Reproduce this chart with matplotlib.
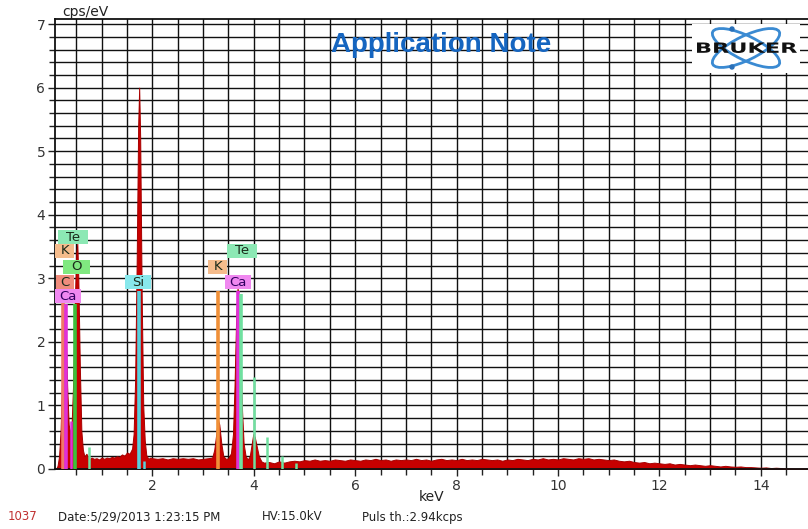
import matplotlib
matplotlib.use("Agg")
import matplotlib.pyplot as plt
from matplotlib.patches import Ellipse, Rectangle, Circle, PathPatch
from matplotlib.textpath import TextPath
from matplotlib.font_manager import FontProperties
from matplotlib.transforms import Affine2D
from matplotlib.ticker import MultipleLocator, FixedLocator

# ---------------- data ----------------
spec_keV = [0.10, 0.13, 0.16, 0.19, 0.22, 0.25, 0.27, 0.29, 0.32, 0.35, 0.38, 0.41, 0.44,
            0.47, 0.50, 0.52, 0.54, 0.57, 0.60, 0.63, 0.66, 0.70, 0.75, 0.80, 0.85, 0.90,
            0.95, 1.00, 1.05, 1.10, 1.15, 1.20, 1.25, 1.30, 1.35, 1.40, 1.45, 1.50, 1.55,
            1.60, 1.63, 1.66, 1.69, 1.72, 1.74, 1.76, 1.79, 1.82, 1.85, 1.88, 1.92, 1.96,
            2.00, 2.10, 2.20, 2.30, 2.40, 2.50, 2.60, 2.70, 2.80, 2.90, 3.00, 3.10, 3.18,
            3.22, 3.26, 3.29, 3.32, 3.36, 3.40, 3.45, 3.50, 3.55, 3.59, 3.62, 3.65, 3.68,
            3.71, 3.74, 3.77, 3.80, 3.84, 3.88, 3.92, 3.96, 3.99, 4.02, 4.06, 4.10, 4.15,
            4.20, 4.30, 4.40, 4.50, 4.60, 4.70, 4.80, 4.90, 5.00, 5.10, 5.20, 5.30, 5.40,
            5.50, 5.60, 5.70, 5.80, 5.90, 6.00, 6.10, 6.20, 6.30, 6.40, 6.50, 6.60, 6.70,
            6.80, 6.90, 7.00, 7.10, 7.20, 7.30, 7.40, 7.50, 7.60, 7.70, 7.80, 7.90, 8.00,
            8.10, 8.20, 8.30, 8.40, 8.50, 8.60, 8.70, 8.80, 8.90, 9.00, 9.10, 9.20, 9.30,
            9.40, 9.50, 9.60, 9.70, 9.80, 9.90, 10.00, 10.10, 10.20, 10.30, 10.40, 10.50,
            10.60, 10.70, 10.80, 10.90, 11.00, 11.10, 11.20, 11.30, 11.40, 11.50, 11.60,
            11.70, 11.80, 11.90, 12.00, 12.10, 12.20, 12.30, 12.40, 12.50, 12.60, 12.70,
            12.80, 12.90, 13.00, 13.10, 13.20, 13.30, 13.40, 13.50, 13.60, 13.70, 13.80,
            13.90, 14.00, 14.10, 14.20, 14.30, 14.40, 14.50, 14.60, 14.70, 14.80, 14.90,
            15.00]
spec_cps = [0.00, 0.05, 0.20, 0.60, 1.40, 2.30, 2.50, 2.20, 1.30, 0.70, 0.55, 0.75, 1.40,
            2.60, 3.40, 3.55, 3.00, 1.60, 0.60, 0.30, 0.20, 0.24, 0.15, 0.18, 0.16, 0.17,
            0.15, 0.18, 0.16, 0.18, 0.17, 0.19, 0.18, 0.20, 0.19, 0.23, 0.21, 0.26, 0.24,
            0.32, 0.55, 1.40, 3.20, 5.40, 6.00, 5.20, 2.70, 1.00, 0.45, 0.22, 0.16, 0.18,
            0.17, 0.16, 0.17, 0.15, 0.17, 0.16, 0.17, 0.16, 0.17, 0.15, 0.16, 0.17, 0.18,
            0.30, 0.55, 0.78, 0.70, 0.40, 0.20, 0.16, 0.17, 0.25, 0.55, 1.30, 2.30, 2.85,
            2.60, 1.70, 0.90, 0.40, 0.20, 0.15, 0.20, 0.40, 0.55, 0.50, 0.35, 0.20, 0.12,
            0.10, 0.11, 0.09, 0.12, 0.10, 0.12, 0.13, 0.12, 0.14, 0.13, 0.15, 0.13, 0.14,
            0.13, 0.15, 0.14, 0.13, 0.15, 0.14, 0.13, 0.15, 0.14, 0.16, 0.14, 0.15, 0.13,
            0.15, 0.14, 0.15, 0.14, 0.16, 0.14, 0.15, 0.13, 0.15, 0.16, 0.14, 0.15, 0.14,
            0.16, 0.14, 0.15, 0.14, 0.16, 0.15, 0.14, 0.15, 0.13, 0.15, 0.14, 0.16, 0.15,
            0.14, 0.16, 0.15, 0.17, 0.15, 0.16, 0.15, 0.17, 0.16, 0.15, 0.17, 0.16,
            0.17, 0.15, 0.16, 0.15, 0.14, 0.15, 0.13, 0.12, 0.13, 0.11, 0.10,
            0.11, 0.09, 0.10, 0.09, 0.08, 0.09, 0.07, 0.08, 0.07, 0.06, 0.07,
            0.06, 0.05, 0.06, 0.05, 0.04, 0.05, 0.04, 0.035, 0.04, 0.03, 0.03,
            0.025, 0.02, 0.025, 0.015, 0.02, 0.015, 0.01, 0.01, 0.008, 0.01, 0.008,
            0.008]

# element marker lines (energy, top of line, element)
line_keV = [0.235, 0.295, 0.39, 0.47, 0.76, 1.735, 1.83, 3.29, 3.68, 3.745, 4.00, 4.27, 4.55, 4.83]
line_top = [2.80, 2.60, 0.75, 2.60, 0.35, 2.80, 0.12, 2.80, 2.80, 2.75, 1.45, 0.50, 0.20, 0.10]
line_elem = ["C", "Ca", "Ca", "O", "Te", "Si", "Si", "K", "Ca", "Te", "Te", "Te", "Te", "Te"]

# element labels (text, x in keV, y in cps/eV)
label_text = ["Te", "K", "O", "C", "Ca", "Si", "K", "Te", "Ca"]
label_keV = [0.44, 0.27, 0.51, 0.27, 0.33, 1.72, 3.29, 3.77, 3.69]
label_cps = [3.65, 3.43, 3.18, 2.94, 2.72, 2.94, 3.18, 3.43, 2.94]

x_major = [2, 4, 6, 8, 10, 12, 14]
y_major = [0, 1, 2, 3, 4, 5, 6, 7]

# ---------------- styles ----------------
line_col = {"C": "#f07868", "Ca": "#e030d8", "O": "#3cc03c", "Te": "#70e0a0",
            "Si": "#58d0dc", "K": "#f09038"}
box_col = {"C": "#f08c7c", "Ca": "#f088f0", "O": "#80e880", "Te": "#8ce8b4",
           "Si": "#88e8ec", "K": "#f5bc8c"}
box_w_px = {"Te": 30, "K": 19, "O": 27, "C": 18, "Ca": 26, "Si": 26}
txt_col = {"Ca": "#300060"}

W, H = 808, 529
fig = plt.figure(figsize=(W / 100, H / 100), dpi=100)
ax_l, ax_b, ax_t = 55, 469, 19
ax = fig.add_axes([ax_l / W, 1 - ax_b / H, 1 - ax_l / W, (ax_b - ax_t) / H])
ax.set_xlim(0.08, 14.93)
ax.set_ylim(0, 7.08)
px_per_keV = (W - ax_l) / (14.93 - 0.08)
px_per_cps = (ax_b - ax_t) / 7.08

ax.set_axisbelow(True)
ax.xaxis.set_major_locator(FixedLocator(x_major))
ax.xaxis.set_minor_locator(MultipleLocator(0.5))
ax.yaxis.set_major_locator(FixedLocator(y_major))
ax.yaxis.set_minor_locator(MultipleLocator(0.2))
ax.grid(which="both", color="#111111", lw=1.0)
ax.tick_params(which="major", direction="out", length=5, width=1, color="#222",
               labelsize=10, labelcolor="#333", pad=2)
ax.tick_params(which="minor", direction="out", length=4, width=1, color="#222")
for s in ["left", "bottom", "top"]:
    ax.spines[s].set_color("#111")
    ax.spines[s].set_linewidth(1.3)
ax.spines["right"].set_visible(False)

ax.fill_between(spec_keV, spec_cps, 0, color="#c80000", edgecolor="#a80000",
                lw=0.7, zorder=2)

for e, t, el in zip(line_keV, line_top, line_elem):
    lw = 2.6 if t > 2 else 1.8
    ax.vlines(e, 0, t, color=line_col[el], lw=lw, zorder=3)

bh = 14 / px_per_cps
for t, x, y in zip(label_text, label_keV, label_cps):
    bw = box_w_px[t] / px_per_keV
    ax.add_patch(Rectangle((x - bw / 2, y - bh / 2), bw, bh, facecolor=box_col[t],
                           edgecolor="none", zorder=4))
    ax.text(x, y, t, ha="center", va="center", fontsize=9.5,
            color=txt_col.get(t, "#1a2a1a"), zorder=5)

fig.text(432 / W, 1 - 497 / H, "keV", fontsize=10, color="#222", ha="center",
         va="center")

fig.text(62 / W, 1 - 12 / H, "cps/eV", fontsize=10, color="#222", va="center")

fig.text(441 / W, 1 - 45 / H, "Application Note", fontsize=20, fontweight="bold",
         color="#1565c0", ha="center", va="center", family="Liberation Sans")

# Bruker logo (pixel units inside a small inset)
lg = fig.add_axes([692 / W, 1 - 73 / H, 108 / W, 49 / H])
lg.set_xlim(0, 108)
lg.set_ylim(0, 49)
lg.axis("off")
lg.add_patch(Rectangle((0, 0), 108, 49, facecolor="white", edgecolor="none"))
for ang in (26, -26):
    lg.add_patch(Ellipse((54, 25), 74, 24, angle=ang, fill=False,
                         edgecolor="#3a8ad2", lw=2))
lg.add_patch(Circle((40, 44), 2, color="#2a70b8"))
lg.add_patch(Circle((40, 6), 2, color="#2a70b8"))
tp = TextPath((0, 0), "BRUKER", size=10,
              prop=FontProperties(family="DejaVu Sans", weight="bold"))
bb = tp.get_extents()
sx = 100 / bb.width
sy = 10.5 / bb.height
tr = Affine2D().translate(-bb.x0, -bb.y0).scale(sx, sy).translate(5, 20)
lg.add_patch(PathPatch(tr.transform_path(tp), facecolor="#111", edgecolor="none"))

# footer
fy = 1 - 517 / H
ff = "Liberation Sans Narrow"
fig.text(8 / W, fy, "1037", fontsize=8.5, color="#c03030", va="center", family=ff)
fig.text(58 / W, fy, "Date:5/29/2013 1:23:15 PM", fontsize=8.5, color="#222",
         va="center", family=ff)
fig.text(262 / W, fy, "HV:15.0kV", fontsize=8.5, color="#222", va="center", family=ff)
fig.text(362 / W, fy, "Puls th.:2.94kcps", fontsize=8.5, color="#222", va="center",
         family=ff)

fig.savefig("out.png", dpi=100)
